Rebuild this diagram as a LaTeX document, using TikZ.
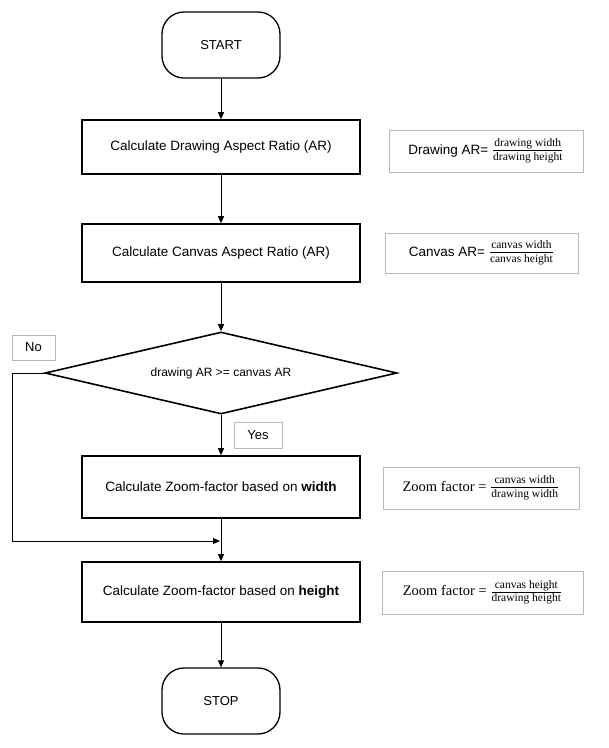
\documentclass[tikz,border=0pt]{standalone}
\usepackage{fontspec}
\setmainfont{Liberation Sans}
\newfontfamily\seriffam{Liberation Serif}
\usetikzlibrary{arrows.meta,shapes.geometric}
\newcommand{\fr}[2]{\ensuremath{\frac{\hbox{\seriffam\fontsize{11.5}{12}\selectfont\rule[-3pt]{0pt}{12pt}#1}}{\hbox{\seriffam\fontsize{11.5}{12}\selectfont\rule[-4pt]{0pt}{13pt}#2}}}}
\tikzset{
  proc/.style={draw=black, line width=1.6pt, minimum width=278pt, inner sep=0pt, font=\fontsize{13.5}{16}\selectfont, align=center},
  term/.style={draw=black, line width=1.3pt, rounded corners=22pt, minimum width=118pt, minimum height=66pt, inner sep=0pt, font=\fontsize{13}{15}\selectfont},
  dec/.style={draw=black, line width=1.6pt, diamond, aspect=4.29, minimum width=352pt, minimum height=82pt, inner sep=0pt, font=\fontsize{12}{14}\selectfont},
  lbl/.style={draw=gray!55, line width=0.9pt, inner sep=0pt, font=\fontsize{13}{15}\selectfont},
  formula/.style={draw=gray!55, line width=0.9pt, inner sep=0pt, font=\fontsize{13.5}{16}\selectfont},
  conn/.style={line width=1pt, -{Triangle[length=7pt,width=6pt]}},
  plain/.style={line width=1pt}
}
\begin{document}
\begin{tikzpicture}[x=1pt,y=1pt]
\useasboundingbox (0,0) rectangle (609,-748);
\node[term] (start) at (221,-45) {START};
\node[proc, minimum height=54pt] (b1) at (221,-147) {Calculate Drawing Aspect Ratio (AR)};
\node[proc, minimum height=58pt] (b2) at (221,-253) {Calculate Canvas Aspect Ratio (AR)};
\node[dec] (dia) at (221,-373) {drawing AR >= canvas AR};
\node[proc, minimum height=62pt] (b3) at (221,-487) {Calculate Zoom-factor based on \textbf{width}};
\node[proc, minimum height=60pt] (b4) at (221,-592) {Calculate Zoom-factor based on \textbf{height}};
\node[term] (stop) at (221,-701) {STOP};

\node[lbl, minimum width=43pt, minimum height=25pt] (no) at (33.5,-347.5) {No};
\node[lbl, minimum width=48pt, minimum height=26pt] (yes) at (258,-435) {Yes};

\node[formula, minimum width=194pt, minimum height=42pt] (f1) at (486,-151) {Drawing AR= \fr{drawing width}{drawing height}};
\node[formula, minimum width=193pt, minimum height=40pt] (f2) at (481.5,-253) {Canvas AR= \fr{canvas width}{canvas height}};
\node[formula, minimum width=196pt, minimum height=42pt] (f3) at (481,-488) {{\seriffam\fontsize{14.5}{16}\selectfont Zoom factor =} \fr{canvas width}{drawing width}};
\node[formula, minimum width=201pt, minimum height=43pt] (f4) at (482.5,-592.5) {{\seriffam\fontsize{14.5}{16}\selectfont Zoom factor =} \fr{canvas height}{drawing height}};

\draw[conn] (start) -- (b1);
\draw[conn] (b1) -- (b2);
\draw[conn] (b2) -- (dia);
\draw[conn] (dia.south) -- (b3);
\draw[conn] (b3) -- (b4);
\draw[conn] (b4) -- (stop);
\coordinate (nl) at (12,-541);
\coordinate (nj) at (220,-541);
\draw[conn] (dia.west) -| (nl) -- (nj);
\end{tikzpicture}
\end{document}
